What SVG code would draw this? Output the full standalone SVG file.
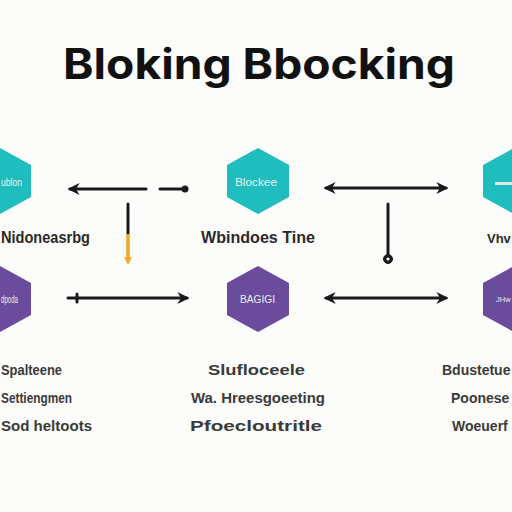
<svg xmlns="http://www.w3.org/2000/svg" width="512" height="512" viewBox="0 0 512 512">
<defs>
<style>
.teal{fill:#1fbdbd}
.purple{fill:#6a4b9c}
.lab{font-family:"Liberation Sans",Arial,sans-serif;font-weight:700;font-size:16px;fill:#2a2a2a}
.sub{font-family:"Liberation Sans",Arial,sans-serif;font-weight:700;font-size:15px;fill:#3a3a3a}
.in{font-family:"Liberation Sans",Arial,sans-serif;font-size:10px;fill:#e8f0f0}
.ln{stroke:#1a1a1a;stroke-width:3;fill:none;stroke-linecap:round}
</style>
<marker id="ah" viewBox="0 0 10 10" refX="8" refY="5" markerWidth="4" markerHeight="4" orient="auto-start-reverse"><path d="M0,0 L10,5 L0,10 L3,5 Z" fill="#1a1a1a"/></marker>
<polygon id="hex" points="0,-33 31,-16 31,16 0,33 -31,16 -31,-16"/>
</defs>
<rect width="512" height="512" fill="#fcfcfa"/>
<text x="259" y="79" text-anchor="middle" font-family="Inter,'Liberation Sans',sans-serif" font-weight="700" font-size="42" fill="#111" textLength="392" lengthAdjust="spacingAndGlyphs">Bloking Bbocking</text>

<g id="node-tl">
<use href="#hex" x="0" y="181" class="teal"/>
<text class="in" x="1" y="186" textLength="21" lengthAdjust="spacingAndGlyphs">ublon</text>
<text class="lab" x="1" y="243" textLength="89" lengthAdjust="spacingAndGlyphs">Nidoneasrbg</text>
</g>
<g id="node-tm">
<use href="#hex" x="258" y="181" class="teal"/>
<text class="in" x="235" y="186" textLength="42" lengthAdjust="spacingAndGlyphs">Blockee</text>
<text class="lab" x="201" y="243" textLength="114" lengthAdjust="spacingAndGlyphs">Wbindoes Tine</text>
</g>
<g id="node-tr">
<use href="#hex" x="514" y="181" class="teal"/>
<rect x="495" y="182" width="17" height="3" fill="#e0e6e6"/>
<text class="lab" x="487" y="243" style="font-size:13px">Vhv</text>
</g>
<g id="node-bl">
<use href="#hex" x="0" y="299" class="purple"/>
<text class="in" x="1" y="303" textLength="17" lengthAdjust="spacingAndGlyphs">dpoda</text>
</g>
<g id="node-bm">
<use href="#hex" x="258" y="299" class="purple"/>
<text class="in" x="240" y="303" textLength="35" lengthAdjust="spacingAndGlyphs">BAGIGI</text>
</g>
<g id="node-br">
<use href="#hex" x="514" y="299" class="purple"/>
<text class="in" x="496" y="302" style="font-size:7.5px">JHw</text>
</g>

<g id="texts-left">
<text class="sub" x="1" y="375" textLength="61" lengthAdjust="spacingAndGlyphs">Spalteene</text>
<text class="sub" x="1" y="403" textLength="71" lengthAdjust="spacingAndGlyphs">Settiengmen</text>
<text class="sub" x="1" y="431" textLength="91" lengthAdjust="spacingAndGlyphs">Sod heltoots</text>
</g>
<g id="texts-mid">
<text class="sub" x="208" y="375" textLength="97" lengthAdjust="spacingAndGlyphs">Slufloceele</text>
<text class="sub" x="191" y="403" textLength="134" lengthAdjust="spacingAndGlyphs">Wa. Hreesgoeeting</text>
<text class="sub" x="190" y="431" textLength="132" lengthAdjust="spacingAndGlyphs">Pfoecloutritle</text>
</g>
<g id="texts-right">
<text class="sub" x="442" y="375" style="font-size:14px">Bdustetue</text>
<text class="sub" x="451" y="403" style="font-size:14px">Poonese</text>
<text class="sub" x="452" y="431" style="font-size:14px">Woeuerf</text>
</g>

<g id="connectors">
<line class="ln" x1="146" y1="189" x2="70" y2="189" marker-end="url(#ah)"/>
<line class="ln" x1="160" y1="189" x2="184" y2="189"/>
<circle cx="185" cy="189" r="3.5" fill="#1a1a1a"/>
<line class="ln" x1="128" y1="204" x2="128" y2="234"/>
<line x1="128" y1="234" x2="128" y2="258" stroke="#f5a623" stroke-width="3.5"/>
<path d="M124,257 L132,257 L128,265 Z" fill="#f5a623"/>
<line class="ln" x1="326" y1="188" x2="446" y2="188" marker-start="url(#ah)" marker-end="url(#ah)"/>
<line class="ln" x1="388" y1="204" x2="388" y2="256"/>
<circle cx="388" cy="259" r="4.5" fill="#1a1a1a" stroke="#1a1a1a" stroke-width="1"/>
<circle cx="388" cy="259" r="1.5" fill="#fcfcfa"/>
<line class="ln" x1="68" y1="298" x2="187" y2="298" marker-end="url(#ah)"/>
<line class="ln" x1="77" y1="294" x2="77" y2="302"/>
<line class="ln" x1="326" y1="298" x2="446" y2="298" marker-start="url(#ah)" marker-end="url(#ah)"/>
</g>
</svg>
